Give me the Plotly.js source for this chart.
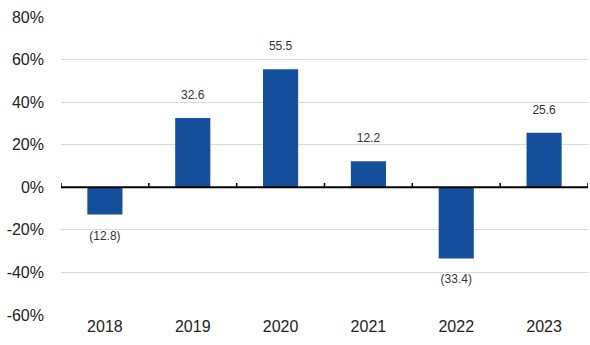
<!DOCTYPE html>
<html><head><meta charset="utf-8">
<script src="https://cdn.plot.ly/plotly-3.0.1.min.js"></script>
<style>html,body{margin:0;padding:0;background:#fff}</style>
</head><body>
<div id="chart" style="width:590px;height:345px"></div>
<script>
var years = ['2018','2019','2020','2021','2022','2023'];
var returns = [-12.8, 32.6, 55.5, 12.2, -33.4, 25.6];
var labels = ['(12.8)','32.6','55.5','12.2','(33.4)','25.6'];
var yTicks = [-60,-40,-20,0,20,40,60,80];

var font = 'Arial, "Liberation Sans", sans-serif';
var barColor = '#164f9b';

var trace = {
  type: 'bar', x: years, y: returns,
  marker: {color: barColor},
  hoverinfo: 'none'
};

var labelTrace = {
  type: 'scatter', mode: 'markers+text', x: years, y: returns, text: labels,
  marker: {size: 24, color: 'rgba(0,0,0,0)'},
  textposition: returns.map(function(v){ return v >= 0 ? 'top center' : 'bottom center'; }),
  textfont: {family: font, size: 12, color: '#333333'},
  hoverinfo: 'none', cliponaxis: false
};

var shapes = [{type:'line', xref:'paper', yref:'y', x0:0, x1:1, y0:0, y1:0, line:{color:'#000', width:2}}];
for (var i = 0; i <= years.length; i++) {
  shapes.push({type:'line', xref:'x', yref:'y', x0:i-0.5, x1:i-0.5, y0:0, y1:2, line:{color:'#000', width:1.5}});
}

var layout = {
  width:590, height:345,
  margin:{l:61, r:2, t:17, b:30},
  paper_bgcolor:'#fff', plot_bgcolor:'#fff',
  showlegend:false,
  bargap:0.6,
  font:{family:font, color:'#222'},
  xaxis:{type:'category', showgrid:false, zeroline:false, showline:false, ticks:'',
    tickfont:{family:font, size:16, color:'#222'}, range:[-0.5,5.5], fixedrange:true},
  yaxis:{range:[-60,80], tickvals:yTicks, ticktext:yTicks.map(function(v){return v+'%';}),
    showgrid:true, gridcolor:'#d9d9d9', gridwidth:1, zeroline:false, showline:false,
    ticks:'', ticklabelstandoff:16, tickfont:{family:font, size:16, color:'#222'}, fixedrange:true},
  shapes: shapes
};

Plotly.newPlot('chart', [trace, labelTrace], layout, {displayModeBar:false, staticPlot:true});
</script>
</body></html>
